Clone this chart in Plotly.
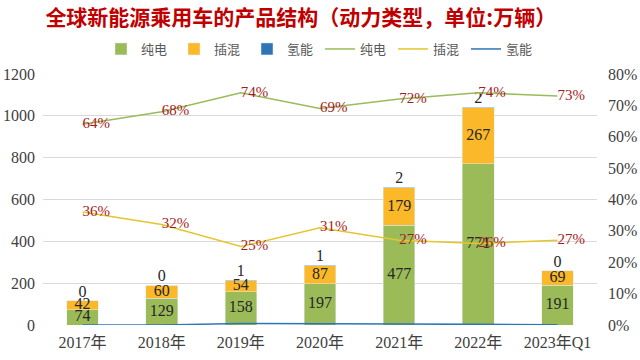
import plotly.graph_objects as go

categories = ["2017年", "2018年", "2019年", "2020年", "2021年", "2022年", "2023年Q1"]
bev = [74, 129, 158, 197, 477, 771, 191]
phev = [42, 60, 54, 87, 179, 267, 69]
fcev = [0, 0, 1, 1, 2, 2, 0]
bev_share = [0.64, 0.68, 0.74, 0.69, 0.72, 0.74, 0.73]
phev_share = [0.36, 0.32, 0.25, 0.31, 0.27, 0.26, 0.27]
fcev_share = [0.0, 0.0, 0.005, 0.003, 0.003, 0.002, 0.001]

totals = [a + b + c for a, b, c in zip(bev, phev, fcev)]
bev_mid = [v / 2 for v in bev]
phev_mid = [a + b / 2 for a, b in zip(bev, phev)]

SERIF = "Liberation Serif, Noto Sans CJK SC"
GREEN = "#9BBB59"
ORANGE = "#FBB829"
BLUE = "#2E75B6"
YELLOW = "#E6C52E"
RED = "#A61C1C"
DARK = "#262626"

fig = go.Figure()
fig.add_trace(go.Bar(x=categories, y=bev, name="纯电", marker_color=GREEN, width=0.4))
fig.add_trace(go.Bar(x=categories, y=phev, name="插混", marker_color=ORANGE, width=0.4))
fig.add_trace(go.Bar(x=categories, y=fcev, name="氢能", marker_color=BLUE, width=0.4))
for ys, txt, pos in [(bev_mid, bev, "middle center"), (phev_mid, phev, "middle center"),
                     (totals, fcev, "top center")]:
    fig.add_trace(go.Scatter(x=categories, y=ys, mode="text", text=[str(v) for v in txt],
                             textposition=pos, showlegend=False, hoverinfo="skip",
                             textfont=dict(family=SERIF, size=16, color=DARK)))
fig.add_trace(go.Scatter(x=categories, y=bev_share, name="纯电", yaxis="y2", mode="lines+text",
                         line=dict(color=GREEN, width=1.5),
                         text=[f"{round(v*100)}%" for v in bev_share], textposition="middle right",
                         textfont=dict(family=SERIF, size=15, color=RED)))
fig.add_trace(go.Scatter(x=categories, y=phev_share, name="插混", yaxis="y2", mode="lines+text",
                         line=dict(color=YELLOW, width=1.5),
                         text=[f"{round(v*100)}%" for v in phev_share], textposition="middle right",
                         textfont=dict(family=SERIF, size=15, color=RED)))
fig.add_trace(go.Scatter(x=categories, y=fcev_share, name="氢能", yaxis="y2", mode="lines",
                         line=dict(color=BLUE, width=1.5)))

fig.update_layout(
    width=640, height=360,
    paper_bgcolor="white", plot_bgcolor="white",
    margin=dict(l=43, r=43, t=74, b=35, autoexpand=False),
    barmode="stack",
    title=dict(text="<b>全球新能源乘用车的产品结构（动力类型，单位:万辆）</b>",
               x=0.47, xanchor="center", y=1 - 18 / 360, yanchor="middle",
               font=dict(family="Noto Sans CJK SC", size=21, color="#C00000")),
    legend=dict(orientation="h", x=0.5, xanchor="center", xref="container",
                y=1 - 49 / 360, yanchor="middle", yref="container",
                font=dict(family="Noto Sans CJK SC", size=13, color="#595959"),
                itemwidth=30, entrywidth=28, traceorder="normal", bgcolor="rgba(0,0,0,0)"),
    xaxis=dict(showgrid=False, showline=False, ticks="", automargin=False,
               ticklabelstandoff=6,
               tickfont=dict(family=SERIF, size=16, color="#404040")),
    yaxis=dict(range=[0, 1200], dtick=200, showgrid=True, gridcolor="#D9D9D9", gridwidth=1,
               zeroline=False, showline=False, automargin=False, ticklabelstandoff=7,
               tickfont=dict(family=SERIF, size=16, color="#404040")),
    yaxis2=dict(range=[0, 0.8], dtick=0.1, tickformat=".0%", overlaying="y", side="right",
                showgrid=False, zeroline=False, showline=False, automargin=False,
                ticklabelstandoff=10,
                tickfont=dict(family=SERIF, size=16, color="#404040")),
    showlegend=True,
)

fig.write_html("out.html", config={"displayModeBar": False},
               post_script="document.body.style.margin='0';")
